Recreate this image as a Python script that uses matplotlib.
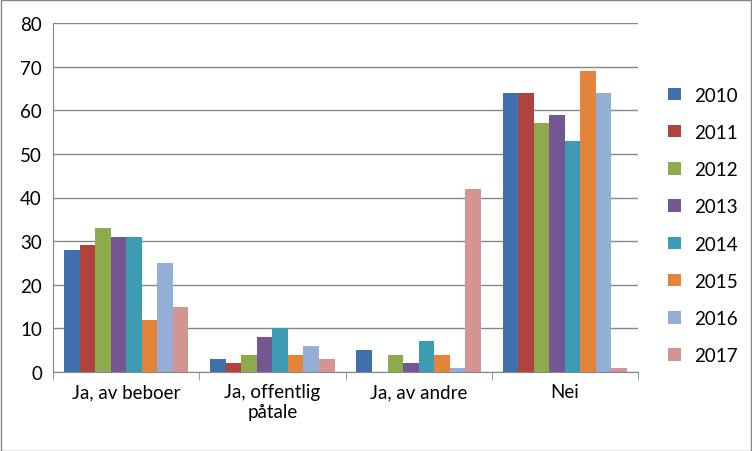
import matplotlib.pyplot as plt
import numpy as np

categories = ['Ja, av beboer', 'Ja, offentlig\npåtale', 'Ja, av andre', 'Nei']
years = ['2010', '2011', '2012', '2013', '2014', '2015', '2016', '2017']
v2010 = [28, 3, 5, 64]
v2011 = [29, 2, 0, 64]
v2012 = [33, 4, 4, 57]
v2013 = [31, 8, 2, 59]
v2014 = [31, 10, 7, 53]
v2015 = [12, 4, 4, 69]
v2016 = [25, 6, 1, 64]
v2017 = [15, 3, 42, 1]
series = [v2010, v2011, v2012, v2013, v2014, v2015, v2016, v2017]
colors = ['#3F70AB', '#B0433F', '#8DAA4D', '#735793', '#3E9BB4', '#E3843A', '#95AED7', '#D49592']

plt.rcParams['font.family'] = ['Lato', 'DejaVu Sans']
fs = 13.5
fig = plt.figure(figsize=(7.52, 4.52), dpi=100)
ax = fig.add_axes([53 / 752, 1 - 373 / 452, 585 / 752, 349 / 452])

x = np.arange(len(categories))
group = 0.85
w = group / len(series)
for i, (vals, c, yr) in enumerate(zip(series, colors, years)):
    ax.bar(x - group / 2 + w * (i + 0.5), vals, w, color=c, label=yr)

ax.set_xlim(-0.5, len(categories) - 0.5)
ax.set_ylim(0, 80)
ax.set_yticks(range(0, 81, 10))
ax.yaxis.grid(True, color='#868686', linewidth=1)
ax.set_axisbelow(True)
ax.tick_params(axis='y', length=0, labelsize=fs, pad=8)
ax.set_xticks(x)
ax.set_xticklabels(categories, fontsize=fs)
ax.tick_params(axis='x', length=0, pad=8)
ax.set_xticks(np.arange(-0.5, len(categories)), minor=True)
ax.tick_params(axis='x', which='minor', length=6, color='#868686')
for s in ['top', 'right']:
    ax.spines[s].set_visible(False)
for s in ['left', 'bottom']:
    ax.spines[s].set_color('#868686')

ax.legend(loc='center left', bbox_to_anchor=(1.023, 0.42), frameon=False,
          fontsize=fs, labelspacing=1.08, handlelength=0.65, handleheight=0.65,
          handletextpad=0.7)

fig.patches.append(plt.Rectangle((0.001, 0.001), 0.998, 0.997, transform=fig.transFigure,
                                 fill=False, edgecolor='#868686', linewidth=1))
fig.savefig('out.png', dpi=100)
